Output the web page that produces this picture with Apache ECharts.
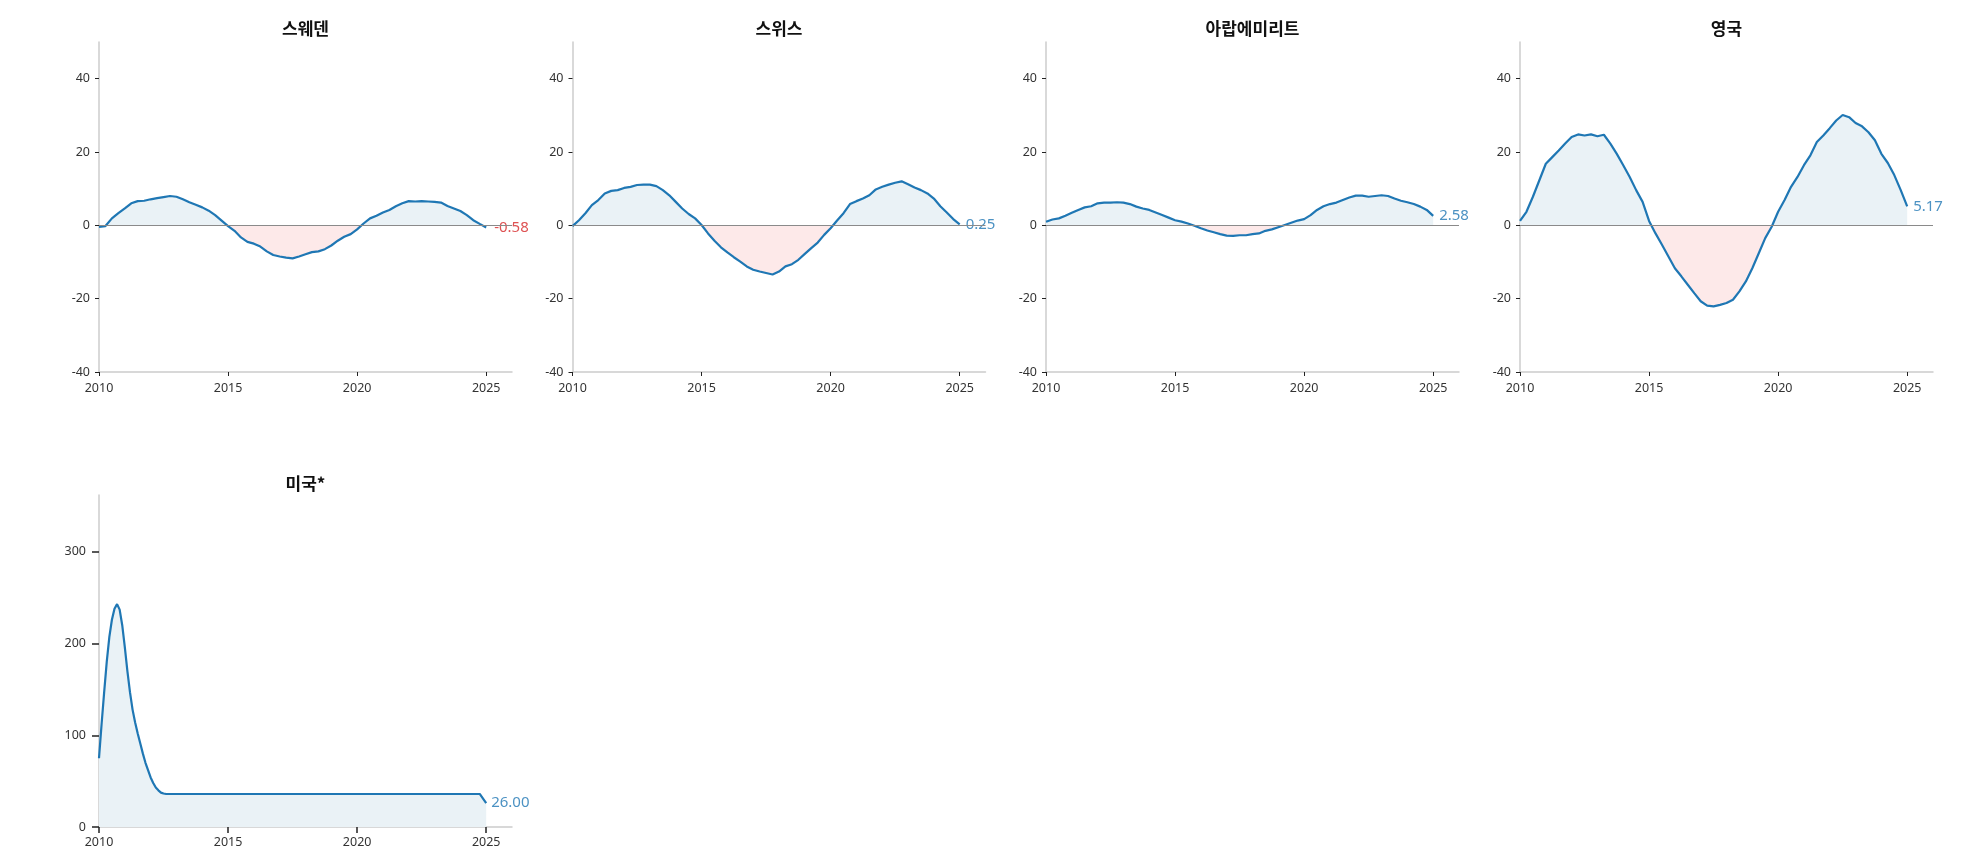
<!DOCTYPE html>
<html><head><meta charset="utf-8">
<script src="https://cdn.jsdelivr.net/npm/echarts@6/dist/echarts.min.js"></script>
<style>html,body{margin:0;padding:0;background:#fff}#c{width:1962px;height:861px}</style>
</head><body><div id="c"></div>
<script>
// time points (quarterly)
const quarters = [
  2010, 2010.25, 2010.5, 2010.75, 2011, 2011.25, 2011.5, 2011.75,
  2012, 2012.25, 2012.5, 2012.75, 2013, 2013.25, 2013.5, 2013.75,
  2014, 2014.25, 2014.5, 2014.75, 2015, 2015.25, 2015.5, 2015.75,
  2016, 2016.25, 2016.5, 2016.75, 2017, 2017.25, 2017.5, 2017.75,
  2018, 2018.25, 2018.5, 2018.75, 2019, 2019.25, 2019.5, 2019.75,
  2020, 2020.25, 2020.5, 2020.75, 2021, 2021.25, 2021.5, 2021.75,
  2022, 2022.25, 2022.5, 2022.75, 2023, 2023.25, 2023.5, 2023.75,
  2024, 2024.25, 2024.5, 2024.75, 2025
];
const sweden = [
  -0.4, -0.2, 1.9, 3.3, 4.6, 6.0, 6.6, 6.7, 7.1, 7.4, 7.7, 8.0, 7.8, 7.1, 6.3, 5.6,
  4.9, 4.0, 2.8, 1.3, -0.2, -1.5, -3.3, -4.5, -5.0, -5.8, -7.1, -8.1, -8.5, -8.8, -9.0, -8.5,
  -7.9, -7.3, -7.1, -6.5, -5.5, -4.2, -3.1, -2.4, -1.1, 0.5, 1.9, 2.6, 3.5, 4.2, 5.2, 6.0,
  6.6, 6.5, 6.6, 6.5, 6.4, 6.2, 5.3, 4.6, 3.9, 2.8, 1.4, 0.4, -0.58
];
const switzerland = [
  -0.2, 1.4, 3.3, 5.5, 6.9, 8.7, 9.4, 9.6, 10.2, 10.5, 11.0, 11.1, 11.1, 10.7, 9.6, 8.2,
  6.4, 4.6, 3.1, 1.9, 0.1, -2.2, -4.2, -6.0, -7.4, -8.7, -9.9, -11.2, -12.1, -12.6, -13.0, -13.4,
  -12.6, -11.2, -10.6, -9.4, -7.8, -6.2, -4.7, -2.6, -0.8, 1.3, 3.3, 5.8, 6.6, 7.3, 8.2, 9.8,
  10.5, 11.1, 11.6, 12.0, 11.2, 10.3, 9.6, 8.7, 7.3, 5.2, 3.5, 1.7, 0.25
];
const uae = [
  1.0, 1.6, 1.9, 2.6, 3.4, 4.2, 4.9, 5.2, 6.0, 6.2, 6.2, 6.3, 6.2, 5.8, 5.1, 4.6,
  4.2, 3.5, 2.8, 2.1, 1.4, 1.0, 0.5, -0.1, -0.8, -1.4, -1.9, -2.4, -2.8, -2.9, -2.7, -2.7,
  -2.4, -2.2, -1.5, -1.1, -0.5, 0.1, 0.7, 1.3, 1.7, 2.8, 4.2, 5.2, 5.8, 6.2, 6.9, 7.6,
  8.1, 8.1, 7.8, 8.0, 8.2, 8.0, 7.3, 6.7, 6.3, 5.8, 5.1, 4.2, 2.58
];
const uk = [
  1.2, 3.7, 7.8, 12.3, 16.8, 18.6, 20.4, 22.3, 24.1, 24.8, 24.5, 24.8, 24.3, 24.7, 22.3, 19.5,
  16.4, 13.2, 9.6, 6.4, 1.2, -2.2, -5.3, -8.5, -11.7, -13.9, -16.2, -18.5, -20.7, -21.9, -22.1, -21.7,
  -21.2, -20.3, -18.0, -15.3, -11.7, -7.6, -3.5, -0.4, 3.7, 6.9, 10.5, 13.2, 16.4, 19.1, 22.7, 24.5,
  26.5, 28.6, 30.1, 29.5, 27.9, 27.0, 25.4, 23.2, 19.5, 17.0, 13.7, 9.6, 5.17
];
const usYears = [
  2010, 2010.1, 2010.2, 2010.3, 2010.4, 2010.5, 2010.6, 2010.7, 2010.8, 2010.9,
  2011, 2011.1, 2011.2, 2011.3, 2011.4, 2011.5, 2011.6, 2011.7, 2011.8, 2011.9,
  2012, 2012.1, 2012.2, 2012.3, 2012.4, 2012.5, 2012.6, 2013, 2014, 2016, 2018,
  2020, 2022, 2024, 2024.75, 2025
];
const usValues = [
  75, 112, 147, 180, 207, 226, 238, 243, 237, 220,
  196, 170, 147, 128, 114, 102, 91, 80, 70, 62,
  54, 48, 43, 40, 37.5, 36.5, 36, 36, 36, 36, 36,
  36, 36, 36, 36, 26
];

const titles = ['스웨덴', '스위스', '아랍에미리트', '영국', '미국*'];
const xTicks = [2010, 2015, 2020, 2025];
const yTicksTop = [-40, -20, 0, 20, 40];
const yTicksUS = [0, 100, 200, 300];

const FONT = '"Noto Sans CJK KR", "Noto Sans", sans-serif';
const NUMFONT = '"Noto Sans", "Open Sans", sans-serif';
const pair = (xs, ys) => xs.map((x, i) => [x, ys[i]]);
const panels = [
  { data: pair(quarters, sweden), zero: true, dist: 8 },
  { data: pair(quarters, switzerland), zero: true, dist: 6 },
  { data: pair(quarters, uae), zero: true, dist: 6 },
  { data: pair(quarters, uk), zero: true, dist: 6 },
  { data: pair(usYears, usValues), zero: false, dist: 5 }
];

const grids = [
  { left: 99, top: 42, width: 413, height: 330 },
  { left: 572.5, top: 42, width: 413, height: 330 },
  { left: 1046, top: 42, width: 413, height: 330 },
  { left: 1520, top: 42, width: 413, height: 330 },
  { left: 99, top: 495, width: 413, height: 332 }
];
const yRanges = [[-40, 50], [-40, 50], [-40, 50], [-40, 50], [0, 362]];

const xAxes = grids.map((g, i) => {
  const us = i === 4;
  return {
    type: 'value', gridIndex: i, min: 2010, max: 2026, interval: 5,
    axisLine: { show: true, onZero: false, lineStyle: { color: '#cccccc', width: 1.5 } },
    axisTick: { show: true, length: us ? 6 : 4, customValues: xTicks,
      lineStyle: { color: '#222', width: us ? 1.5 : 1 } },
    axisLabel: { customValues: xTicks, fontSize: 12.5, color: '#333', fontFamily: NUMFONT,
      margin: us ? 9 : 10, formatter: v => String(v) },
    splitLine: { show: false }
  };
});
const yAxes = grids.map((g, i) => {
  const us = i === 4;
  const ticks = us ? yTicksUS : yTicksTop;
  return {
    type: 'value', gridIndex: i, min: yRanges[i][0], max: yRanges[i][1], interval: us ? 100 : 20,
    axisLine: { show: true, onZero: false, lineStyle: { color: '#cccccc', width: 1.5 } },
    axisTick: { show: true, length: us ? 7 : 4, customValues: ticks,
      lineStyle: { color: '#222', width: us ? 1.5 : 1 } },
    axisLabel: { customValues: ticks, fontSize: 12.5, color: '#333', fontFamily: NUMFONT,
      margin: us ? 13 : 9, formatter: v => String(v) },
    splitLine: { show: false }
  };
});

const POS = '#eaf2f6', NEG = '#fde9e9';
const series = [];
panels.forEach((p, i) => {
  const g = grids[i];
  const [lo, hi] = yRanges[i];
  const frac = hi / (hi - lo); // position of zero inside the grid, from top
  series.push({
    type: 'line', xAxisIndex: i, yAxisIndex: i, data: p.data,
    symbol: 'none', silent: true, z: 1,
    lineStyle: { width: 0, opacity: 0 },
    areaStyle: {
      opacity: 1, origin: 0,
      color: {
        type: 'linear', x: 0, y: g.top, x2: 0, y2: g.top + g.height, global: true,
        colorStops: [
          { offset: 0, color: POS }, { offset: frac, color: POS },
          { offset: frac, color: NEG }, { offset: 1, color: NEG }
        ]
      }
    },
    markLine: p.zero ? {
      silent: true, symbol: ['none', 'none'], label: { show: false },
      lineStyle: { color: '#8a8a8a', width: 1.2, type: 'solid' },
      data: [{ yAxis: 0 }]
    } : undefined
  });
  const last = p.data[p.data.length - 1][1];
  series.push({
    type: 'line', xAxisIndex: i, yAxisIndex: i, data: p.data,
    symbol: 'none', silent: true, z: 3,
    lineStyle: { color: '#1f77b4', width: 2.2 }, itemStyle: { color: '#1f77b4' },
    endLabel: {
      show: true, distance: p.dist, fontSize: 15, fontFamily: NUMFONT,
      color: last < 0 ? '#de5253' : '#4c92c3',
      formatter: (q) => q.value[1].toFixed(2)
    }
  });
});

const centers = grids.map(g => g.left + g.width / 2);
const title = titles.map((t, i) => ({
  text: t, left: centers[i], top: i === 4 ? 474 : 19, textAlign: 'center', padding: 0,
  textStyle: { fontSize: 17, fontWeight: 'bold', color: '#111', fontFamily: FONT, lineHeight: 20 }
}));

const chart = echarts.init(document.getElementById('c'));
chart.setOption({
  animation: false,
  backgroundColor: '#ffffff',
  title: title,
  grid: grids,
  xAxis: xAxes,
  yAxis: yAxes,
  series: series
});
</script></body></html>
